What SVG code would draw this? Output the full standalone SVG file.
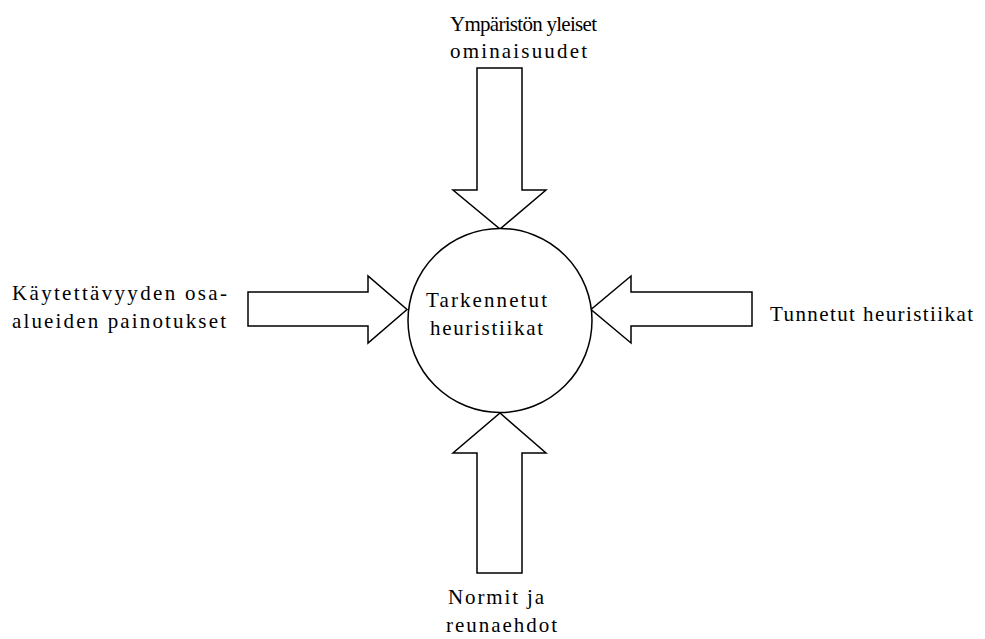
<svg xmlns="http://www.w3.org/2000/svg" width="985" height="639" viewBox="0 0 985 639">
<style>
.bg{fill:#ffffff}
.shape{fill:#ffffff;stroke:#000000;stroke-width:1.5;stroke-linejoin:miter}
.lbl{font-family:'Liberation Serif','DejaVu Serif',serif;font-size:21px;fill:#000000}
</style>
<rect class="bg" x="0" y="0" width="985" height="639"/>
<g id="connectors">
<polygon class="shape" points="477,68 522,68 522,190 546,190 500,229 453,190 477,190"/>
<polygon class="shape" points="477,573 522,573 522,453 546,453 500,413 453,453 477,453"/>
<polygon class="shape" points="248,292 368,292 368,276 407,309.5 368,343 368,326 248,326"/>
<polygon class="shape" points="752,292 631,292 631,276 591,309.5 631,343 631,326 752,326"/>
</g>
<g id="center">
<circle class="shape" cx="500" cy="320.5" r="92"/>
<text class="lbl" x="426" y="307" textLength="121" lengthAdjust="spacing">Tarkennetut</text>
<text class="lbl" x="430" y="335" textLength="113" lengthAdjust="spacing">heuristiikat</text>
</g>
<g id="top">
<text class="lbl" x="450" y="31" textLength="147" lengthAdjust="spacing">Ympäristön yleiset</text>
<text class="lbl" x="450" y="58" textLength="137" lengthAdjust="spacing">ominaisuudet</text>
</g>
<g id="left">
<text class="lbl" x="12" y="300" textLength="215" lengthAdjust="spacing">Käytettävyyden osa-</text>
<text class="lbl" x="12" y="328" textLength="214" lengthAdjust="spacing">alueiden painotukset</text>
</g>
<g id="right">
<text class="lbl" x="770" y="321" textLength="203" lengthAdjust="spacing">Tunnetut heuristiikat</text>
</g>
<g id="bottom">
<text class="lbl" x="448" y="604" textLength="96" lengthAdjust="spacing">Normit ja</text>
<text class="lbl" x="446" y="632" textLength="111" lengthAdjust="spacing">reunaehdot</text>
</g>
</svg>
